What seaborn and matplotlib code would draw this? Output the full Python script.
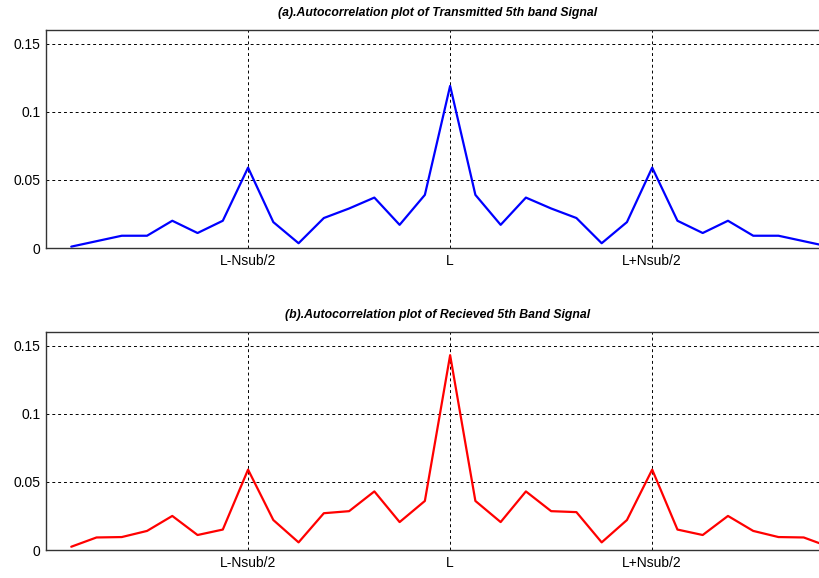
import matplotlib
matplotlib.use("Agg")
import matplotlib.pyplot as plt
import seaborn as sns
import pandas as pd
from matplotlib import font_manager

# lag index relative to L
lags = list(range(-15, 16))
tick_pos = [-8, 0, 8]
tick_labels = ["L-Nsub/2", "L", "L+Nsub/2"]
ytick_vals = [0, 0.05, 0.1, 0.15]
ytick_labels = ["0", "0.05", "0.1", "0.15"]

transmitted = [0.001, 0.005, 0.009, 0.009, 0.020, 0.011, 0.020, 0.059, 0.019, 0.0035,
               0.022, 0.029, 0.037, 0.017, 0.039, 0.119, 0.039, 0.017, 0.037, 0.029,
               0.022, 0.0035, 0.019, 0.059, 0.020, 0.011, 0.020, 0.009, 0.009, 0.005, 0.001]
received = [0.0024, 0.0092, 0.0095, 0.014, 0.025, 0.011, 0.015, 0.059, 0.022, 0.0056,
            0.027, 0.0285, 0.043, 0.0205, 0.036, 0.143, 0.036, 0.0205, 0.043, 0.0285,
            0.0278, 0.0056, 0.022, 0.059, 0.015, 0.011, 0.025, 0.014, 0.0095, 0.0092, 0.0024]

titles = ["(a).Autocorrelation plot of Transmitted 5th band Signal",
          "(b).Autocorrelation plot of Recieved 5th Band Signal"]
colors = ["#0000ff", "#ff0000"]

sns.set_style("white")
plt.rcParams['font.family'] = ['Liberation Sans', 'DejaVu Sans']

names = {f.name for f in font_manager.fontManager.ttflist}
title_family = ['Liberation Sans Narrow'] if 'Liberation Sans Narrow' in names else ['Liberation Sans']
title_size = 11 if 'Liberation Sans Narrow' in names else 8.8

W, H = 820, 578
fig = plt.figure(figsize=(W / 100, H / 100), dpi=100)

# axes pixel boxes: (left, top, right, bottom)
boxes = [(46, 30, 829, 248), (46, 332, 829, 550)]

for series, title, color, (l, t, r, b) in zip([transmitted, received], titles, colors, boxes):
    ax = fig.add_axes([l / W, (H - b) / H, (r - l) / W, (b - t) / H])
    df = pd.DataFrame({"lag": lags, "value": series})
    sns.lineplot(data=df, x="lag", y="value", ax=ax, color=color, linewidth=1.6)
    ax.set_xlim(-16, 15)
    ax.set_ylim(0, 0.16)
    ax.set_xticks(tick_pos)
    ax.set_xticklabels(tick_labels)
    ax.set_yticks(ytick_vals)
    ax.set_yticklabels(ytick_labels)
    ax.set_xlabel("")
    ax.set_ylabel("")
    ax.grid(True, color="black", linestyle=(0, (3, 3)), linewidth=0.7)
    ax.tick_params(axis="both", direction="in", length=4, width=0.8, colors="black",
                   labelsize=10, pad=4)
    for sp in ax.spines.values():
        sp.set_color("#333333")
        sp.set_linewidth(1.0)
        sp.set_visible(True)
    ax.set_title(title, fontsize=title_size, fontweight="bold", fontstyle="italic",
                 family=title_family, color="black", pad=10)

fig.savefig("out.png", dpi=100)
